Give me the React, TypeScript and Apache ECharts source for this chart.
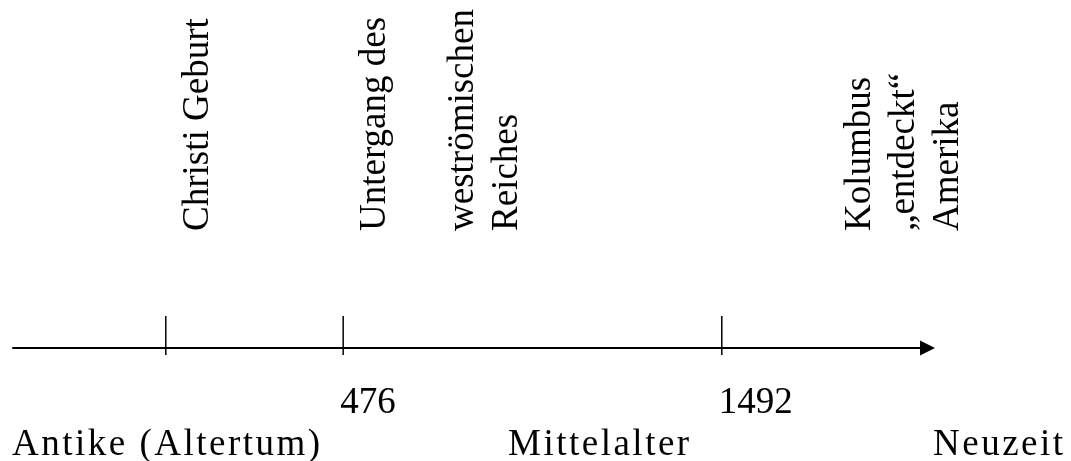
import React, { useEffect, useRef } from 'react';
import * as echarts from 'echarts';

// ---- data ----
const eventYears = [0, 476, 1492];
const yearLabels = ['', '476', '1492'];
const eventTexts = [
  'Christi Geburt',
  'Untergang des\n\nweströmischen\nReiches',
  'Kolumbus\n„entdeckt“\nAmerika',
];
const eraNames = ['Antike (Altertum)', 'Mittelalter', 'Neuzeit'];
const axisMin = -410;
const axisMax = 2044;

// ---- layout / style ----
const FONT_FAMILY = 'Liberation Serif';
const FONT_SIZE = 37;
const eventTextShift = [7.7, 7.3, 113.7];
const eventTextBottom = 231;
const yearLabelShift = -3;
const yearLabelMiddle = 400.5;
const eraLeft = [12, 508, 933];
const eraMiddle = 442.5;
const LETTER_SPACING = 2.5;

export default function App() {
  const ref = useRef<HTMLDivElement>(null);

  useEffect(() => {
    if (!ref.current) return;
    const chart = echarts.init(ref.current, undefined, { renderer: 'svg' });

    const option: any = {
      animation: false,
      textStyle: { fontFamily: FONT_FAMILY },
      grid: { left: 13, right: 143.5, top: 316, bottom: 106 },
      xAxis: {
        type: 'value',
        min: axisMin,
        max: axisMax,
        axisLine: {
          show: true,
          onZero: true,
          symbol: ['none', 'triangle'],
          symbolSize: [15, 15],
          lineStyle: { color: '#000', width: 2 },
        },
        axisTick: { show: false },
        axisLabel: { show: false },
        splitLine: { show: false },
      },
      yAxis: {
        type: 'value',
        min: -7,
        max: 32,
        show: false,
        splitLine: { show: false },
      },
      series: [
        {
          type: 'custom',
          clip: false,
          data: eventYears.map((y, i) => [y, i]),
          renderItem: (params: any, api: any) => {
            const p = api.coord([api.value(0), 0]);
            const cs = params.coordSys;
            return {
              type: 'line',
              shape: { x1: p[0], y1: cs.y, x2: p[0], y2: cs.y + cs.height },
              style: { stroke: '#000', lineWidth: 1.5 },
            };
          },
        },
      ],
    };
    chart.setOption(option);

    const textBase = {
      fontSize: FONT_SIZE,
      fontFamily: FONT_FAMILY,
      fill: '#000',
    };
    const graphics: any[] = [];
    eventYears.forEach((year, i) => {
      const px = chart.convertToPixel({ gridIndex: 0 }, [year, 0]) as number[];
      const tx = px[0];
      if (yearLabels[i]) {
        graphics.push({
          type: 'text',
          x: tx + yearLabelShift,
          y: yearLabelMiddle,
          style: { ...textBase, text: yearLabels[i], align: 'left', verticalAlign: 'middle' },
        });
      }
      graphics.push({
        type: 'text',
        x: tx + eventTextShift[i],
        y: eventTextBottom,
        rotation: Math.PI / 2,
        style: {
          ...textBase,
          text: eventTexts[i],
          lineHeight: 44,
          align: 'left',
          verticalAlign: 'top',
        },
      });
    });
    eraNames.forEach((name, i) => {
      graphics.push({
        type: 'text',
        x: eraLeft[i],
        y: eraMiddle,
        style: { ...textBase, text: name, align: 'left', verticalAlign: 'middle' },
      });
    });
    chart.setOption({ graphic: graphics });

    // letter spacing for the era names (SVG text supports it natively)
    const applySpacing = () => {
      if (!ref.current) return;
      ref.current.querySelectorAll('text').forEach((t) => {
        if (eraNames.includes((t.textContent || '').trim())) {
          (t as SVGTextElement).style.letterSpacing = `${LETTER_SPACING}px`;
        }
      });
    };
    applySpacing();
    chart.on('finished', applySpacing);

    return () => chart.dispose();
  }, []);

  return (
    <div
      ref={ref}
      style={{ position: 'fixed', left: 0, top: 0, width: 1071, height: 461 }}
    />
  );
}
